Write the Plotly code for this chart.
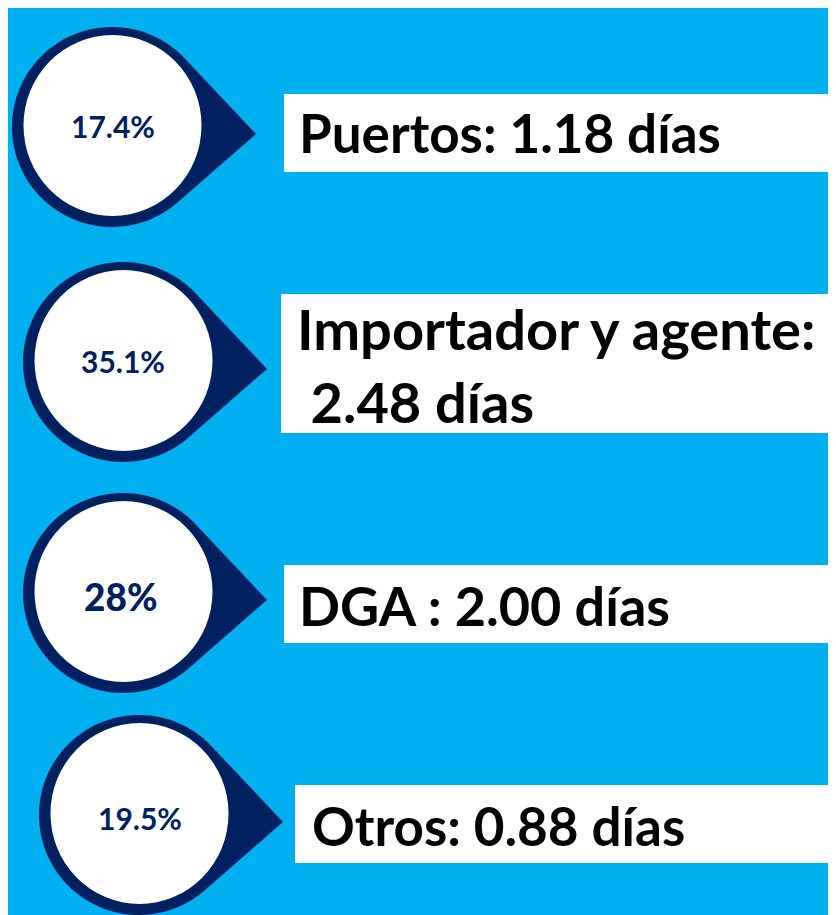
import numpy as np
import plotly.graph_objects as go

# ---- data ----
categories = ["Puertos", "Importador y agente", "DGA", "Otros"]
shares = [17.4, 35.1, 28, 19.5]
days = [1.18, 2.48, 2.00, 0.88]
separators = [": ", ":<br>\u00a0", " : ", ": "]
share_fmt = ["{:.1f}%", "{:.1f}%", "{:.0f}%", "{:.1f}%"]

# ---- layout constants (positions / styles) ----
OFF = 8  # page body margin
W, H = 836 - OFF, 915 - OFF
BLUE = "#00B0F0"
NAVY = "#002060"
centers = [(112, 127), (123, 362), (123, 593), (139, 815)]
R_OUT = 100
R_IN = (89, 90.5)
TIP = (144, 7)
boxes = [(284, 94, 172), (281, 294, 433), (284, 565, 643), (295, 785, 863)]
text_x = [297, 295, 297, 310]
text_mid = [132, 365, 605, 825]
pct_pos = [(113, 126), (123, 361), (121, 596), (140, 818)]
pct_size = [30, 30, 37, 30]
pct_weight = ["bold", "bold", 900, "bold"]
LABEL_SIZE = [53, 56, 54, 53]

fig = go.Figure()
shapes = []
annotations = []

for i, cat in enumerate(categories):
    cx, cy = centers[i][0] - OFF, centers[i][1] - OFF
    tx, ty = cx + TIP[0], cy + TIP[1]
    d = np.hypot(TIP[0], TIP[1])
    th = np.arctan2(TIP[1], TIP[0])
    al = np.arccos(R_OUT / d)
    angs = np.linspace(th + al, th - al + 2 * np.pi, 120)
    pts = [(tx, ty)] + [(cx + R_OUT * np.cos(a), cy + R_OUT * np.sin(a)) for a in angs]
    path = "M " + " L ".join(f"{x:.2f},{y:.2f}" for x, y in pts) + " Z"
    shapes.append(dict(type="path", path=path, fillcolor=NAVY, line=dict(width=0)))
    wx, wy = cx + 0.5, cy - 1.5
    shapes.append(dict(type="circle", x0=wx - R_IN[0], x1=wx + R_IN[0],
                       y0=wy - R_IN[1], y1=wy + R_IN[1], fillcolor="white",
                       line=dict(width=0)))
    bx, by0, by1 = boxes[i]
    shapes.append(dict(type="rect", x0=bx - OFF, x1=W + 5, y0=by0 - OFF, y1=by1 - OFF,
                       fillcolor="white", line=dict(width=0)))

    label = f"{cat}{separators[i]}{days[i]:.2f} días"
    annotations.append(dict(x=text_x[i] - OFF, y=text_mid[i] - OFF, xref="x", yref="y",
                            text=label, align="left",
                            showarrow=False, xanchor="left", yanchor="middle",
                            font=dict(family="Lato", size=LABEL_SIZE[i],
                                      color="black", weight="bold")))
    px, py = pct_pos[i]
    annotations.append(dict(x=px - OFF, y=py - OFF, xref="x", yref="y",
                            text=share_fmt[i].format(shares[i]),
                            showarrow=False, xanchor="center", yanchor="middle",
                            font=dict(family="Lato", size=pct_size[i],
                                      color=NAVY, weight=pct_weight[i])))

fig.update_layout(
    width=W, height=H, margin=dict(l=0, r=0, t=0, b=0),
    paper_bgcolor=BLUE, plot_bgcolor=BLUE,
    xaxis=dict(range=[0, W], visible=False, fixedrange=True),
    yaxis=dict(range=[H, 0], visible=False, fixedrange=True),
    shapes=shapes, annotations=annotations, showlegend=False,
)
fig.write_html("out.html", config={"displayModeBar": False})
